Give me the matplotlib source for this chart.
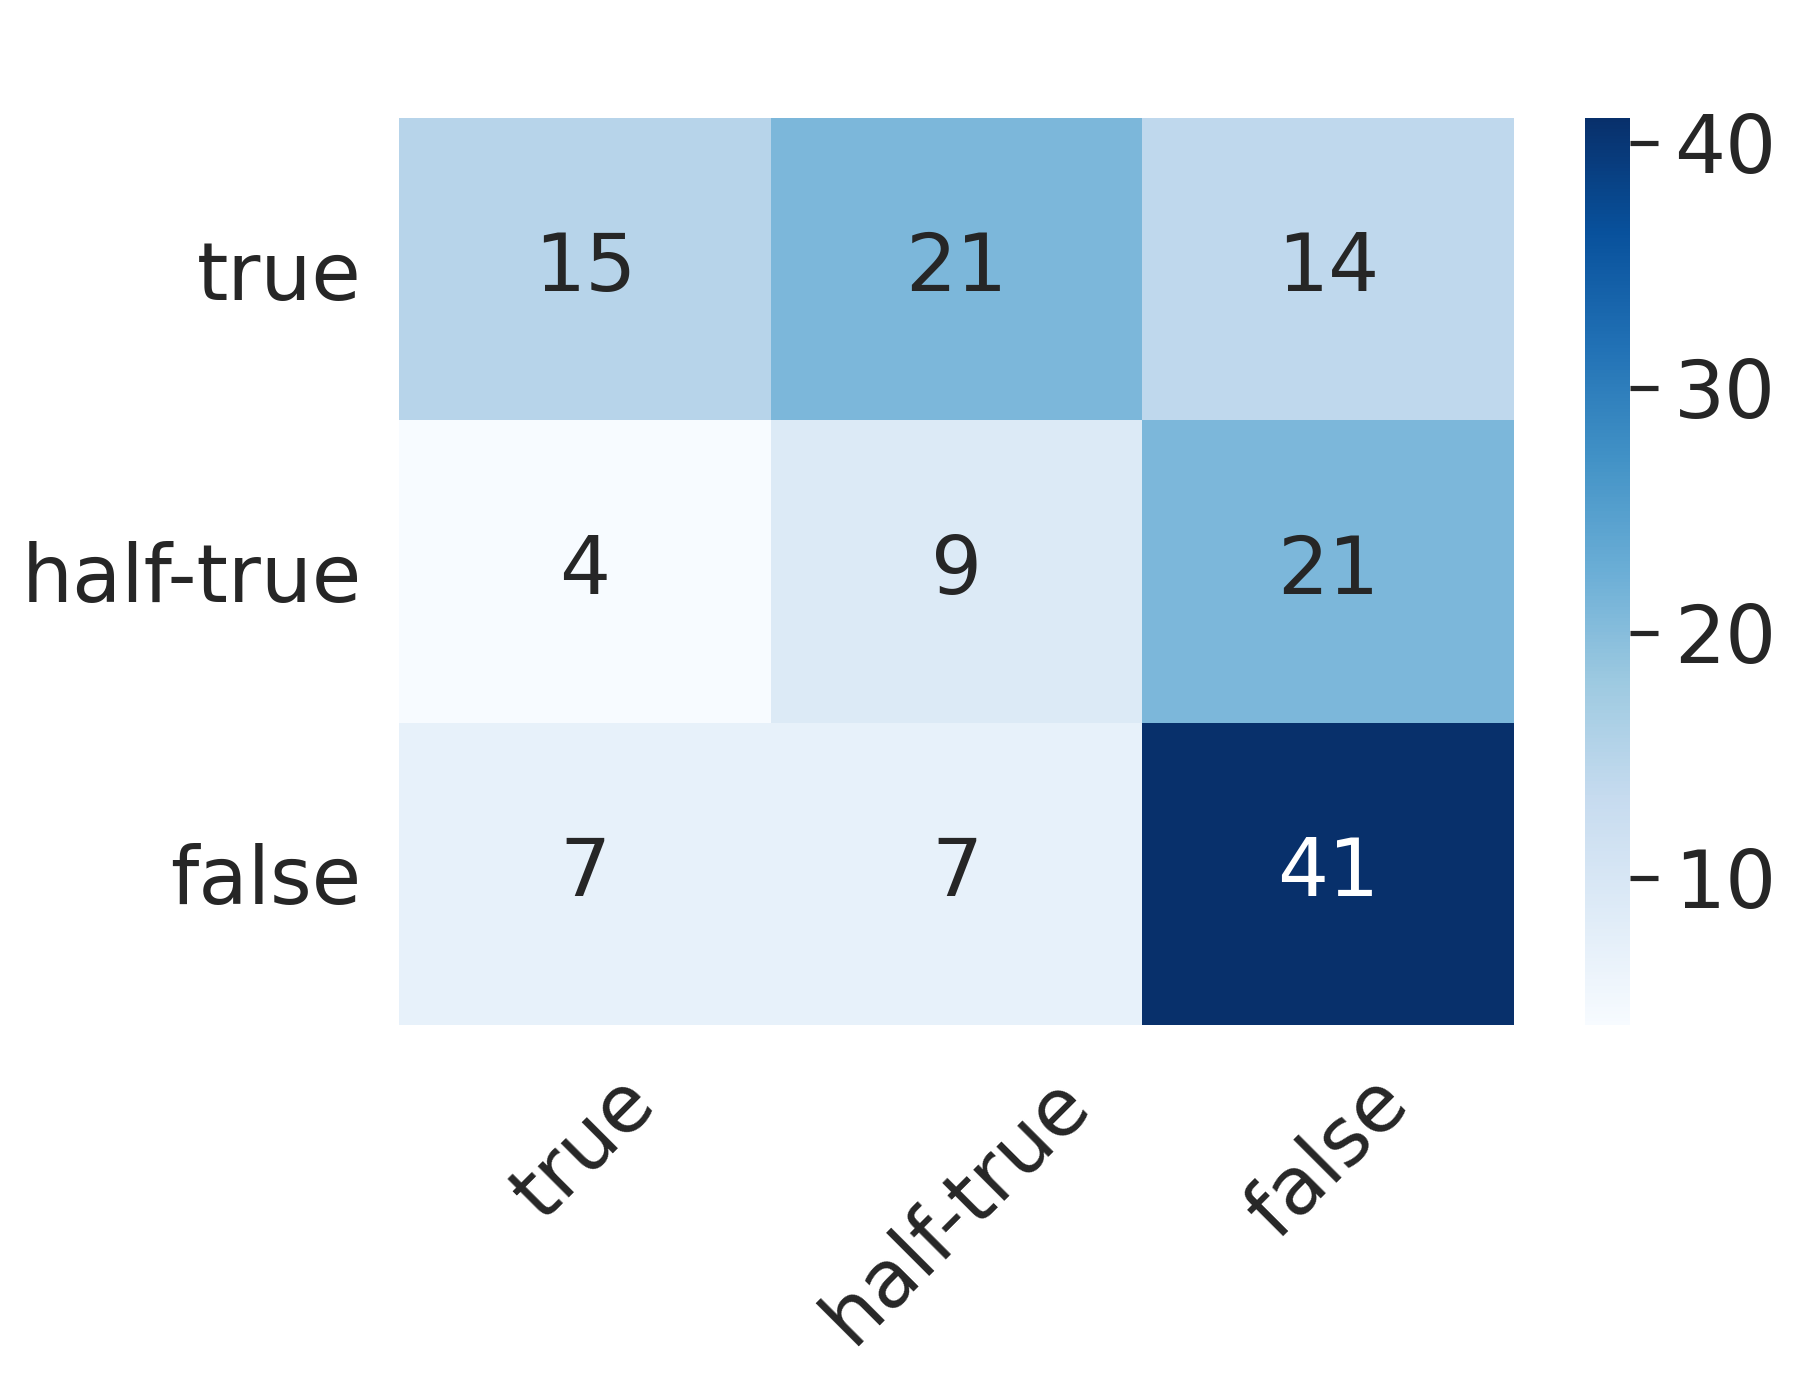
import numpy as np
import matplotlib
matplotlib.use("Agg")
import matplotlib.pyplot as plt

labels = ["true", "half-true", "false"]
counts = [
    [15, 21, 14],
    [4, 9, 21],
    [7, 7, 41],
]

cm = np.array(counts)
text_color = "#262626"
fs = 19.3

fig = plt.figure(figsize=(1799 / 300, 1382 / 300), dpi=300)
ax = fig.add_axes([0.2218, 0.2583, 0.6198, 0.6563])
cax = fig.add_axes([0.881, 0.2583, 0.025, 0.6563])

vmin, vmax = cm.min(), cm.max()
mesh = ax.pcolormesh(cm, cmap="Blues", vmin=vmin, vmax=vmax)
ax.set_xlim(0, cm.shape[1])
ax.set_ylim(cm.shape[0], 0)

norm = mesh.norm
cmap = mesh.cmap
for i in range(cm.shape[0]):
    for j in range(cm.shape[1]):
        r, g, b, _ = cmap(norm(cm[i, j]))
        lum = 0.2126 * r + 0.7152 * g + 0.0722 * b
        c = "white" if lum < 0.408 else text_color
        ax.text(j + 0.5, i + 0.5, str(cm[i, j]), ha="center", va="center",
                fontsize=fs, color=c)

ax.set_xticks(np.arange(cm.shape[1]) + 0.5)
ax.set_yticks(np.arange(cm.shape[0]) + 0.5)
ax.set_xticklabels(labels, rotation=45, fontsize=fs, color=text_color)
ax.set_yticklabels(labels, fontsize=fs, color=text_color)
ax.tick_params(length=0, pad=9)
for s in ax.spines.values():
    s.set_visible(False)

cb = fig.colorbar(mesh, cax=cax)
cb.outline.set_visible(False)
cb.set_ticks([10, 20, 30, 40])
cb.ax.tick_params(labelsize=fs, labelcolor=text_color, length=6.6, width=1.25,
                  color=text_color, pad=4)

fig.savefig("out.png", dpi=300, facecolor="white")
